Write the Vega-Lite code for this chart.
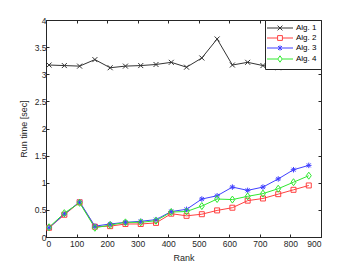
{
  "$schema": "https://vega.github.io/schema/vega-lite/v6.json",
  "width": 275,
  "height": 217,
  "autosize": {"type": "none"},
  "padding": {"left": 46, "top": 20, "right": 33, "bottom": 29},
  "background": "white",
  "config": {
    "font": "Liberation Sans",
    "view": {"stroke": "#262626", "strokeWidth": 1},
    "axis": {
      "grid": false,
      "domainColor": "#262626",
      "tickColor": "#262626",
      "labelColor": "#262626",
      "titleColor": "#262626",
      "labelFontSize": 8.5,
      "titleFontSize": 9,
      "titleFontWeight": "normal",
      "tickSize": -3,
      "labelPadding": 4
    }
  },
  "resolve": {"axis": {"x": "independent", "y": "independent"}},
  "data": {"values": [
    {"rank": 10, "alg": "Alg. 1", "time": 3.17},
    {"rank": 60, "alg": "Alg. 1", "time": 3.16},
    {"rank": 110, "alg": "Alg. 1", "time": 3.15},
    {"rank": 160, "alg": "Alg. 1", "time": 3.27},
    {"rank": 210, "alg": "Alg. 1", "time": 3.12},
    {"rank": 260, "alg": "Alg. 1", "time": 3.15},
    {"rank": 310, "alg": "Alg. 1", "time": 3.16},
    {"rank": 360, "alg": "Alg. 1", "time": 3.18},
    {"rank": 410, "alg": "Alg. 1", "time": 3.22},
    {"rank": 460, "alg": "Alg. 1", "time": 3.13},
    {"rank": 510, "alg": "Alg. 1", "time": 3.30},
    {"rank": 560, "alg": "Alg. 1", "time": 3.65},
    {"rank": 610, "alg": "Alg. 1", "time": 3.17},
    {"rank": 660, "alg": "Alg. 1", "time": 3.22},
    {"rank": 710, "alg": "Alg. 1", "time": 3.16},
    {"rank": 760, "alg": "Alg. 1", "time": 3.12},
    {"rank": 810, "alg": "Alg. 1", "time": 3.19},
    {"rank": 860, "alg": "Alg. 1", "time": 3.15},
    {"rank": 10, "alg": "Alg. 2", "time": 0.17},
    {"rank": 60, "alg": "Alg. 2", "time": 0.41},
    {"rank": 110, "alg": "Alg. 2", "time": 0.64},
    {"rank": 160, "alg": "Alg. 2", "time": 0.19},
    {"rank": 210, "alg": "Alg. 2", "time": 0.20},
    {"rank": 260, "alg": "Alg. 2", "time": 0.24},
    {"rank": 310, "alg": "Alg. 2", "time": 0.24},
    {"rank": 360, "alg": "Alg. 2", "time": 0.26},
    {"rank": 410, "alg": "Alg. 2", "time": 0.43},
    {"rank": 460, "alg": "Alg. 2", "time": 0.39},
    {"rank": 510, "alg": "Alg. 2", "time": 0.42},
    {"rank": 560, "alg": "Alg. 2", "time": 0.49},
    {"rank": 610, "alg": "Alg. 2", "time": 0.54},
    {"rank": 660, "alg": "Alg. 2", "time": 0.67},
    {"rank": 710, "alg": "Alg. 2", "time": 0.71},
    {"rank": 760, "alg": "Alg. 2", "time": 0.79},
    {"rank": 810, "alg": "Alg. 2", "time": 0.87},
    {"rank": 860, "alg": "Alg. 2", "time": 0.95},
    {"rank": 10, "alg": "Alg. 3", "time": 0.17},
    {"rank": 60, "alg": "Alg. 3", "time": 0.42},
    {"rank": 110, "alg": "Alg. 3", "time": 0.65},
    {"rank": 160, "alg": "Alg. 3", "time": 0.20},
    {"rank": 210, "alg": "Alg. 3", "time": 0.24},
    {"rank": 260, "alg": "Alg. 3", "time": 0.27},
    {"rank": 310, "alg": "Alg. 3", "time": 0.29},
    {"rank": 360, "alg": "Alg. 3", "time": 0.32},
    {"rank": 410, "alg": "Alg. 3", "time": 0.47},
    {"rank": 460, "alg": "Alg. 3", "time": 0.51},
    {"rank": 510, "alg": "Alg. 3", "time": 0.70},
    {"rank": 560, "alg": "Alg. 3", "time": 0.76},
    {"rank": 610, "alg": "Alg. 3", "time": 0.92},
    {"rank": 660, "alg": "Alg. 3", "time": 0.86},
    {"rank": 710, "alg": "Alg. 3", "time": 0.92},
    {"rank": 760, "alg": "Alg. 3", "time": 1.07},
    {"rank": 810, "alg": "Alg. 3", "time": 1.24},
    {"rank": 860, "alg": "Alg. 3", "time": 1.32},
    {"rank": 10, "alg": "Alg. 4", "time": 0.18},
    {"rank": 60, "alg": "Alg. 4", "time": 0.44},
    {"rank": 110, "alg": "Alg. 4", "time": 0.63},
    {"rank": 160, "alg": "Alg. 4", "time": 0.17},
    {"rank": 210, "alg": "Alg. 4", "time": 0.22},
    {"rank": 260, "alg": "Alg. 4", "time": 0.27},
    {"rank": 310, "alg": "Alg. 4", "time": 0.27},
    {"rank": 360, "alg": "Alg. 4", "time": 0.30},
    {"rank": 410, "alg": "Alg. 4", "time": 0.46},
    {"rank": 460, "alg": "Alg. 4", "time": 0.47},
    {"rank": 510, "alg": "Alg. 4", "time": 0.57},
    {"rank": 560, "alg": "Alg. 4", "time": 0.70},
    {"rank": 610, "alg": "Alg. 4", "time": 0.69},
    {"rank": 660, "alg": "Alg. 4", "time": 0.75},
    {"rank": 710, "alg": "Alg. 4", "time": 0.80},
    {"rank": 760, "alg": "Alg. 4", "time": 0.89},
    {"rank": 810, "alg": "Alg. 4", "time": 1.01},
    {"rank": 860, "alg": "Alg. 4", "time": 1.13}
  ]},
  "layer": [
    {
      "mark": {"type": "line", "strokeWidth": 1},
      "encoding": {
        "x": {"field": "rank", "type": "quantitative", "scale": {"domain": [0, 900], "nice": false},
              "axis": {"orient": "bottom", "title": "Rank", "values": [0,100,200,300,400,500,600,700,800,900], "titlePadding": 6, "labelPadding": 5}},
        "y": {"field": "time", "type": "quantitative", "scale": {"domain": [0, 4], "nice": false},
              "axis": {"orient": "left", "title": "Run time [sec]", "values": [0,0.5,1,1.5,2,2.5,3,3.5,4], "format": "~g", "titlePadding": 6, "labelPadding": 3}},
        "color": {"field": "alg", "type": "nominal",
                  "scale": {"domain": ["Alg. 1", "Alg. 2", "Alg. 3", "Alg. 4"], "range": ["#333333", "#ff4040", "#4040ff", "#30e830"]},
                  "legend": {
                    "title": null,
                    "orient": "top-right",
                    "offset": 0,
                    "fillColor": "white",
                    "strokeColor": "#262626",
                    "padding": 4,
                    "labelFontSize": 8,
                    "labelColor": "#000000",
                    "symbolSize": 16,
                    "symbolOffset": 7,
                    "labelOffset": 12,
                    "rowPadding": 0,
                    "symbolStrokeWidth": 1,
                    "encode": {
                      "symbols": {"update": {
                        "shape": {"signal": "datum.value == 'Alg. 1' ? 'M-6.5,0H6.5M-1.2,-1.2L1.2,1.2M-1.2,1.2L1.2,-1.2' : datum.value == 'Alg. 2' ? 'M-6.5,0H-1.2M1.2,0H6.5M-1.2,-1.2H1.2V1.2H-1.2Z' : datum.value == 'Alg. 3' ? 'M-6.5,0H6.5M0,-1.3V1.3M-1,-1L1,1M-1,1L1,-1' : 'M-6.5,0H-1.1M1.1,0H6.5M0,-1.6L1.1,0L0,1.6L-1.1,0Z'"},
                        "fill": {"value": "transparent"}
                      }}
                    }
                  }}
      }
    },
    {
      "transform": [{"filter": "datum.alg == 'Alg. 1'"}],
      "mark": {"type": "point", "filled": false, "strokeWidth": 1, "size": 25, "opacity": 1, "shape": "M-1,-1L1,1M-1,1L1,-1"},
      "encoding": {
        "x": {"field": "rank", "type": "quantitative", "axis": {"orient": "top", "labels": false, "title": null, "domain": false, "values": [0,100,200,300,400,500,600,700,800,900]}},
        "y": {"field": "time", "type": "quantitative", "axis": {"orient": "right", "labels": false, "title": null, "domain": false, "values": [0,0.5,1,1.5,2,2.5,3,3.5,4]}},
        "color": {"field": "alg", "type": "nominal"}
      }
    },
    {
      "transform": [{"filter": "datum.alg == 'Alg. 2'"}],
      "mark": {"type": "point", "filled": false, "strokeWidth": 1, "size": 25, "opacity": 1, "shape": "M-1,-1H1V1H-1Z"},
      "encoding": {
        "x": {"field": "rank", "type": "quantitative", "axis": null},
        "y": {"field": "time", "type": "quantitative", "axis": null},
        "color": {"field": "alg", "type": "nominal"}
      }
    },
    {
      "transform": [{"filter": "datum.alg == 'Alg. 3'"}],
      "mark": {"type": "point", "filled": false, "strokeWidth": 1, "size": 25, "opacity": 1, "shape": "M-1.1,0H1.1M0,-1.1V1.1M-0.8,-0.8L0.8,0.8M-0.8,0.8L0.8,-0.8"},
      "encoding": {
        "x": {"field": "rank", "type": "quantitative", "axis": null},
        "y": {"field": "time", "type": "quantitative", "axis": null},
        "color": {"field": "alg", "type": "nominal"}
      }
    },
    {
      "transform": [{"filter": "datum.alg == 'Alg. 4'"}],
      "mark": {"type": "point", "filled": false, "strokeWidth": 1, "size": 25, "opacity": 1, "shape": "M0,-1.4L1,0L0,1.4L-1,0Z"},
      "encoding": {
        "x": {"field": "rank", "type": "quantitative", "axis": null},
        "y": {"field": "time", "type": "quantitative", "axis": null},
        "color": {"field": "alg", "type": "nominal"}
      }
    }
  ]
}
